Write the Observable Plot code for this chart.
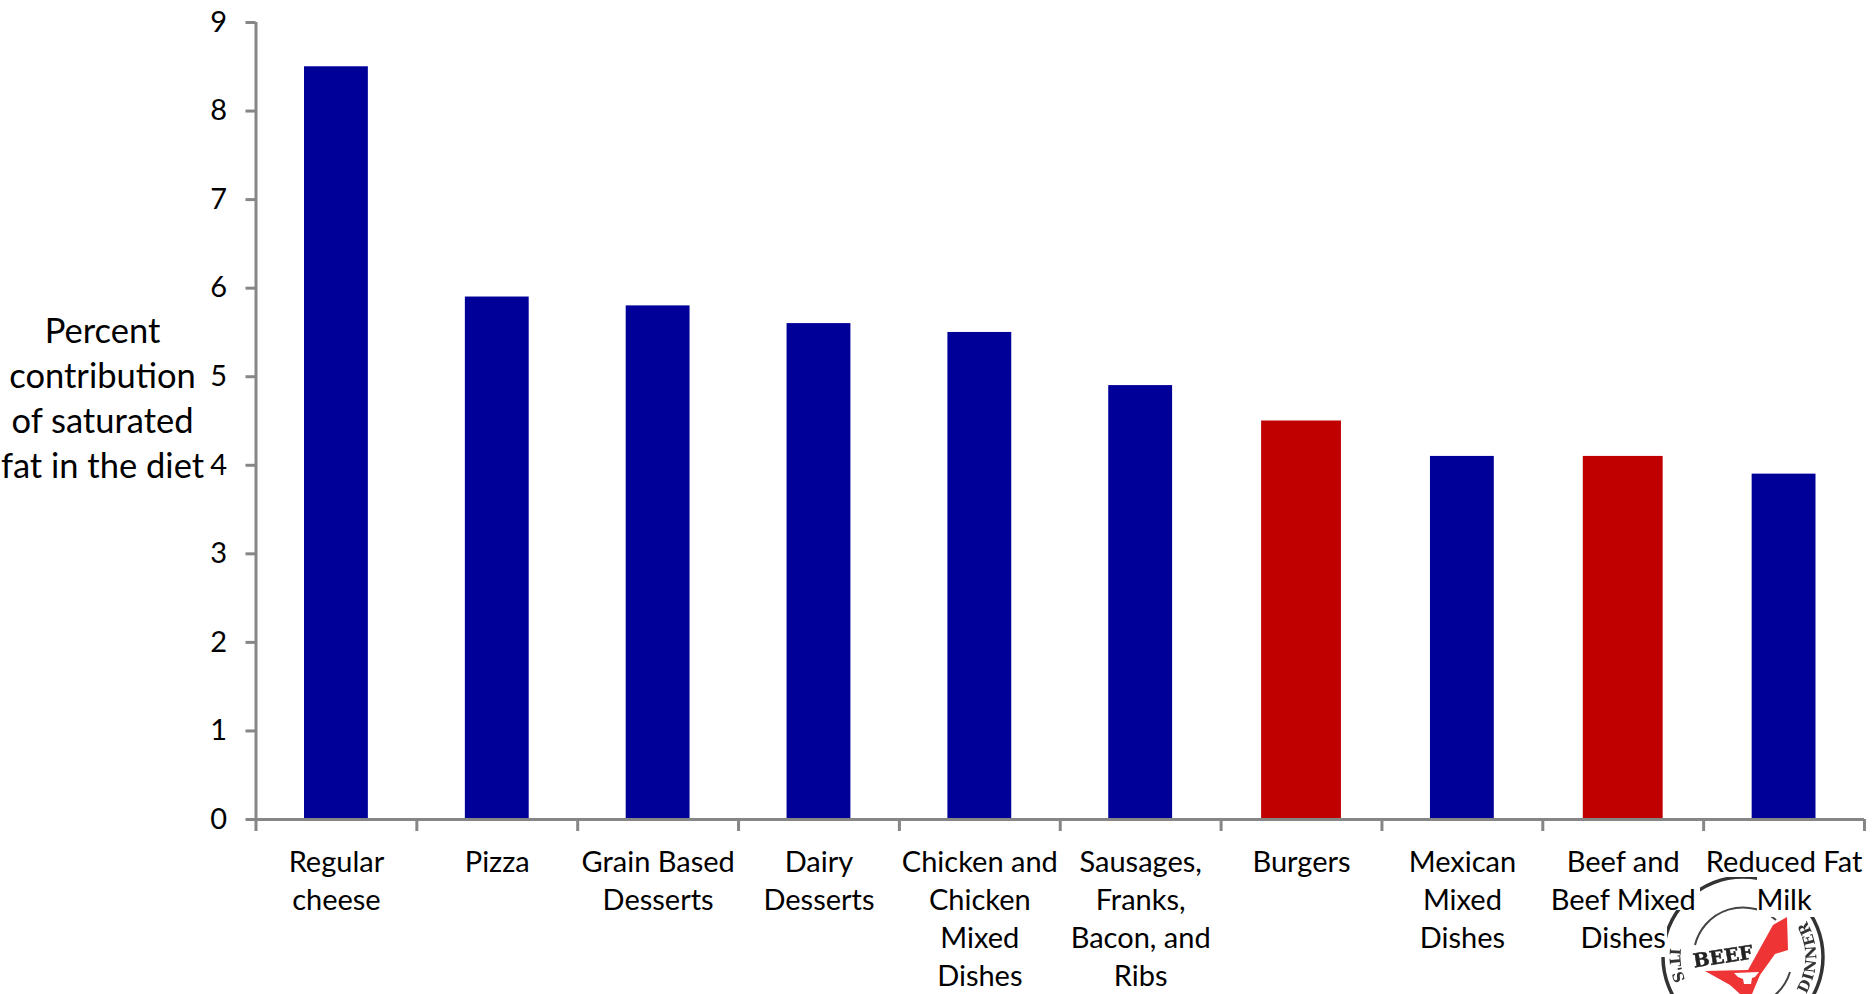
<!DOCTYPE html>
<html>
<head>
<meta charset="utf-8">
<script src="https://cdn.jsdelivr.net/npm/d3@7"></script>
<script src="https://cdn.jsdelivr.net/npm/@observablehq/plot@0.6"></script>
<style>
  html, body { margin: 0; padding: 0; background: #fff; overflow: hidden; }
  #wrap { position: relative; width: 1874px; height: 994px; }
  #wrap > svg { position: absolute; left: 0; top: 0; }
</style>
</head>
<body>
<div id="wrap">
  <!-- Beef checkoff seal, tucked under the category labels -->
  <svg id="seal" width="1874" height="994" viewBox="0 0 1874 994" style="filter: blur(0.6px)">
    <defs>
      <path id="ringLeft" d="M 1670 948 A 73 73 0 0 0 1683 998"/>
      <path id="ringRight" d="M 1806 994 A 73 73 0 0 0 1806 920"/>
    </defs>
    <circle cx="1743" cy="957" r="80" fill="none" stroke="#333" stroke-width="3.5"/>
    <path d="M 1695 945 A 49.5 49.5 0 0 1 1776 920" fill="none" stroke="#444" stroke-width="2"/>
    <path d="M 1790 972 A 49.5 49.5 0 0 1 1764 1002" fill="none" stroke="#444" stroke-width="2"/>
    <text font-family="DejaVu Serif" font-weight="bold" font-size="15" fill="#333" letter-spacing="1"><textPath href="#ringLeft">IT'S</textPath></text>
    <text font-family="DejaVu Serif" font-weight="bold" font-size="15" fill="#333" letter-spacing="1"><textPath href="#ringRight">DINNER</textPath></text>
    <path d="M 1705 971 L 1748 970 L 1773 925 L 1787 917 L 1788 950 L 1775 954 L 1760 975 L 1752 994 L 1740 994 L 1730 985 Z" fill="#ee3434"/>
    <path d="M 1734 973 L 1759 972 L 1755 977 L 1752 978 L 1751 984 L 1744 984 L 1743 979 L 1738 977 Z" fill="#fff"/>
    <text x="1723" y="963" text-anchor="middle" transform="rotate(-9 1723 957)" font-family="DejaVu Serif" font-weight="bold" font-size="19" textLength="60" lengthAdjust="spacingAndGlyphs" fill="#222" stroke="#222" stroke-width="0.5">BEEF</text>
    <rect x="1560" y="880" width="140" height="30" fill="#fff"/>
    <rect x="1560" y="905" width="107" height="52" fill="#fff"/>
    <rect x="1757" y="850" width="117" height="67" fill="#fff"/>
    <rect x="1600" y="850" width="274" height="27" fill="#fff"/>
  </svg>
</div>
<script>
// Leading food sources of saturated fat in the diet
const categories = [
  "Regular\ncheese",
  "Pizza",
  "Grain Based\nDesserts",
  "Dairy\nDesserts",
  "Chicken and\nChicken\nMixed\nDishes",
  "Sausages,\nFranks,\nBacon, and\nRibs",
  "Burgers",
  "Mexican\nMixed\nDishes",
  "Beef and\nBeef Mixed\nDishes",
  "Reduced Fat\nMilk"
];
const percents = [8.5, 5.9, 5.8, 5.6, 5.5, 4.9, 4.5, 4.1, 4.1, 3.9];
const beefCategories = ["Burgers", "Beef and\nBeef Mixed\nDishes"];
const yTicks = [0, 1, 2, 3, 4, 5, 6, 7, 8, 9];
const yTitle = "Percent\ncontribution\nof saturated\nfat in the diet";

const rows = categories.map((category, i) => ({category, percent: percents[i]}));
const isBeef = d => beefCategories.includes(d.category);

const axisColor = "#868686";
const textColor = "#000";
const fontFamily = "Lato, 'Noto Sans', sans-serif";
const bandWidth = 160.85;

const chart = Plot.plot({
  width: 1874,
  height: 994,
  marginTop: 22,
  marginBottom: 175,
  marginLeft: 255.5,
  marginRight: 10,
  style: {background: "transparent", fontFamily},
  x: {domain: categories, padding: 0, round: false, label: null},
  y: {domain: [0, 9], label: null},
  marks: [
    // Burgers and beef dishes are picked out in red, on slightly wider bars
    Plot.barY(rows.filter(d => !isBeef(d)), {x: "category", y: "percent", fill: "#000099", insetLeft: 48.5, insetRight: 48.5}),
    Plot.barY(rows.filter(isBeef), {x: "category", y: "percent", fill: "#c00000", insetLeft: 40.5, insetRight: 40.5}),

    // Category boundaries: ticks sit between the bands, not under the bars
    Plot.axisX({ticks: categories, tickSize: 12, stroke: axisColor, strokeWidth: 3, strokeOpacity: 1, dx: -bandWidth / 2, tickFormat: () => "", label: null}),
    Plot.axisX({ticks: categories.slice(-1), tickSize: 12, stroke: axisColor, strokeWidth: 3, strokeOpacity: 1, dx: bandWidth / 2, tickFormat: () => "", label: null}),
    Plot.axisX({tickSize: 0, tickPadding: 25.5, fontSize: 29, lineHeight: 1.31, fill: textColor, fillOpacity: 1, label: null, lineWidth: Infinity}),

    Plot.axisY({ticks: yTicks, tickSize: 10, stroke: axisColor, strokeWidth: 3, strokeOpacity: 1, tickPadding: 19, fontSize: 29, fill: textColor, fillOpacity: 1, label: null}),
    Plot.ruleX([categories[0]], {stroke: axisColor, strokeWidth: 3, dx: -bandWidth / 2}),
    Plot.ruleY([0], {stroke: axisColor, strokeWidth: 3}),

    Plot.text([yTitle], {frameAnchor: "left", y: [4.78], dx: -153.5, fontSize: 34.5, lineHeight: 1.296, textAnchor: "middle", fill: textColor, lineWidth: Infinity})
  ]
});

document.getElementById("wrap").appendChild(chart);
</script>
</body>
</html>
